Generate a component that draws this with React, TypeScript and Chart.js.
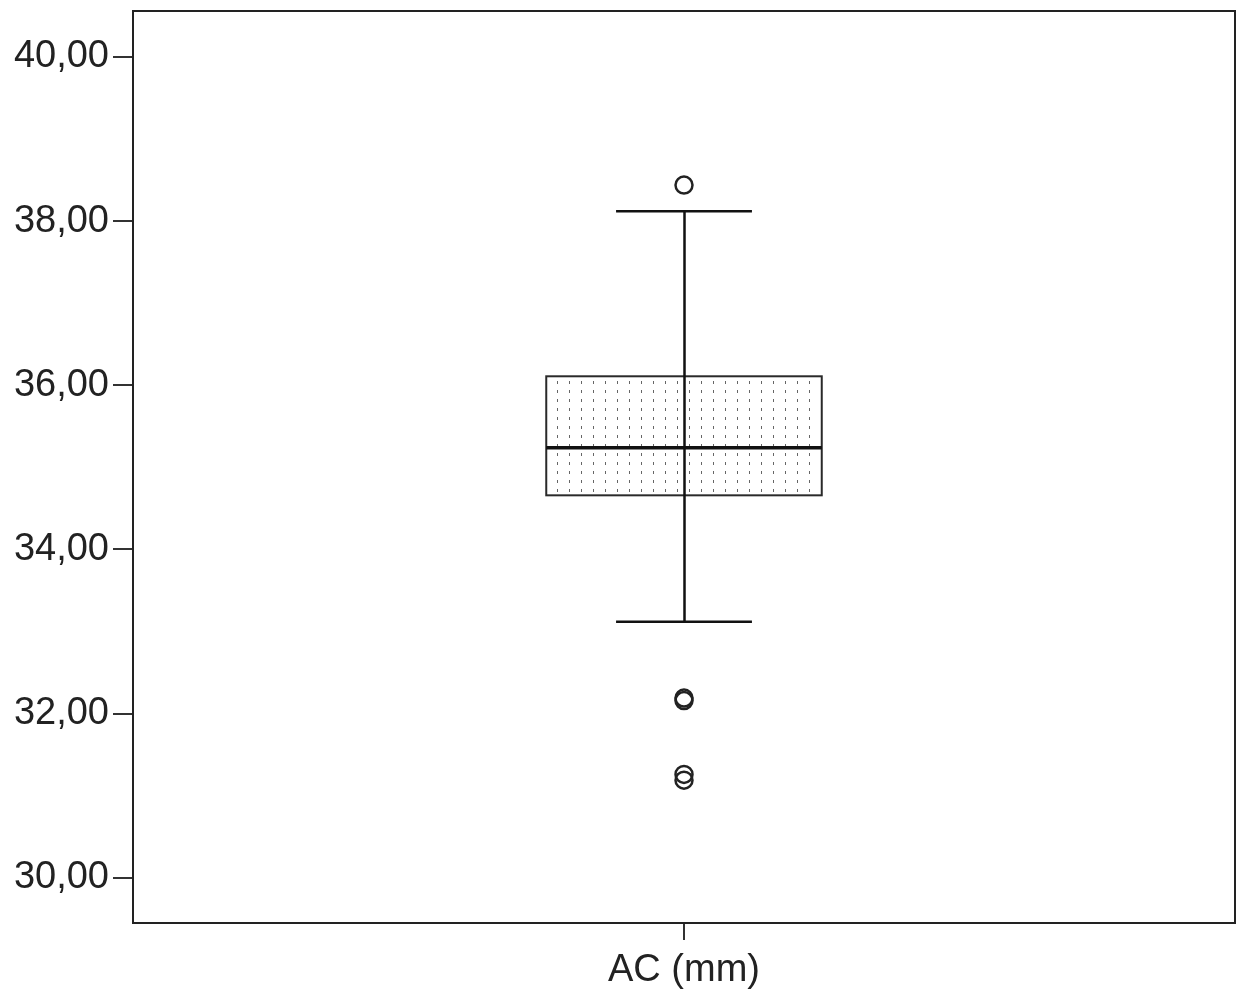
import React, { useEffect, useRef } from 'react';
import { Chart, registerables } from 'chart.js';
Chart.register(...registerables);

const categories = ['AC (mm)'];
const q1 = [34.66];
const median = [35.24];
const q3 = [36.11];
const whiskerLow = [33.12];
const whiskerHigh = [38.12];
const outliers = [[38.44, 32.19, 32.16, 31.26, 31.19]];
const yTicks = [30, 32, 34, 36, 38, 40];

const FONT = "'Liberation Sans', Arial, sans-serif";

function makePattern(ctx: CanvasRenderingContext2D) {
  const c = document.createElement('canvas');
  c.width = 12;
  c.height = 9;
  const p = c.getContext('2d')!;
  p.fillStyle = '#ffffff';
  p.fillRect(0, 0, 12, 9);
  p.fillStyle = '#666666';
  p.fillRect(5, 3, 1, 3);
  return ctx.createPattern(c, 'repeat')!;
}

const boxPlugin = {
  id: 'boxplotDraw',
  beforeDatasetsDraw(chart: any) {
    const { ctx, scales } = chart;
    const x = scales.x;
    const y = scales.y;
    categories.forEach((_, i) => {
      const pos = i + 1;
      const cx = Math.round(x.getPixelForValue(pos)) + 0.5;
      const left = x.getPixelForValue(pos - 0.25);
      const right = x.getPixelForValue(pos + 0.25);
      const capL = x.getPixelForValue(pos - 0.1233);
      const capR = x.getPixelForValue(pos + 0.1233);
      const top = y.getPixelForValue(q3[i]);
      const bottom = y.getPixelForValue(q1[i]);
      const med = y.getPixelForValue(median[i]);
      const wHi = y.getPixelForValue(whiskerHigh[i]);
      const wLo = y.getPixelForValue(whiskerLow[i]);
      ctx.save();
      ctx.fillStyle = makePattern(ctx);
      ctx.fillRect(left, top, right - left, bottom - top);
      ctx.strokeStyle = '#2a2a2a';
      ctx.lineWidth = 2;
      ctx.strokeRect(left, top, right - left, bottom - top);
      ctx.strokeStyle = '#111111';
      ctx.lineWidth = 2.5;
      ctx.beginPath();
      ctx.moveTo(cx, wHi);
      ctx.lineTo(cx, wLo);
      ctx.moveTo(capL, wHi);
      ctx.lineTo(capR, wHi);
      ctx.moveTo(capL, wLo);
      ctx.lineTo(capR, wLo);
      ctx.stroke();
      ctx.lineWidth = 3.5;
      ctx.beginPath();
      ctx.moveTo(left, med);
      ctx.lineTo(right, med);
      ctx.stroke();
      ctx.restore();
    });
  },
  afterDraw(chart: any) {
    const { ctx, chartArea } = chart;
    ctx.save();
    ctx.strokeStyle = '#222222';
    ctx.lineWidth = 2;
    ctx.strokeRect(chartArea.left, chartArea.top, chartArea.right - chartArea.left, chartArea.bottom - chartArea.top);
    ctx.restore();
  },
};

export default function App() {
  const ref = useRef<HTMLCanvasElement>(null);
  useEffect(() => {
    const chart = new Chart(ref.current!, {
      type: 'scatter',
      data: {
        datasets: [
          {
            label: 'outliers',
            data: outliers.flatMap((vals, i) => vals.map((v) => ({ x: i + 1, y: v }))),
            pointRadius: 8.5,
            pointBackgroundColor: 'rgba(255,255,255,0)',
            pointBorderColor: '#222222',
            pointBorderWidth: 2.5,
            pointHoverRadius: 8.5,
          },
        ],
      },
      options: {
        responsive: false,
        animation: false,
        layout: { padding: { top: 11, right: 10, left: 0, bottom: 0 } },
        plugins: { legend: { display: false }, tooltip: { enabled: false } },
        events: [],
        scales: {
          x: {
            type: 'linear',
            min: 0,
            max: categories.length + 1,
            afterBuildTicks: (s: any) => {
              s.ticks = categories.map((_, i) => ({ value: i + 1 }));
            },
            afterFit: (s: any) => {
              s.height = 73;
              s.paddingLeft = 0;
              s.paddingRight = 0;
            },
            ticks: {
              autoSkip: false,
              maxRotation: 0,
              padding: 8,
              color: '#222222',
              font: { family: FONT, size: 38 },
              callback: (v: any) => categories[Number(v) - 1] ?? '',
            },
            grid: { drawOnChartArea: false, tickLength: 17, color: '#333333', lineWidth: 2 },
            border: { display: false },
          },
          y: {
            type: 'linear',
            min: 29.45,
            max: 40.56,
            afterBuildTicks: (s: any) => {
              s.ticks = yTicks.map((v) => ({ value: v }));
            },
            afterFit: (s: any) => {
              s.width = 133;
              s.paddingTop = 0;
              s.paddingBottom = 0;
            },
            ticks: {
              padding: 4,
              color: '#222222',
              font: { family: FONT, size: 38 },
              callback: (v: any) => Number(v).toFixed(2).replace('.', ','),
            },
            grid: { drawOnChartArea: false, tickLength: 20, color: '#333333', lineWidth: 2 },
            border: { display: false },
          },
        },
      },
      plugins: [boxPlugin],
    });
    return () => chart.destroy();
  }, []);
  return (
    <div style={{ position: 'fixed', left: 0, top: 0, width: 1246, height: 996, background: '#fff' }}>
      <canvas ref={ref} width={1246} height={996} style={{ width: 1246, height: 996 }} />
    </div>
  );
}
